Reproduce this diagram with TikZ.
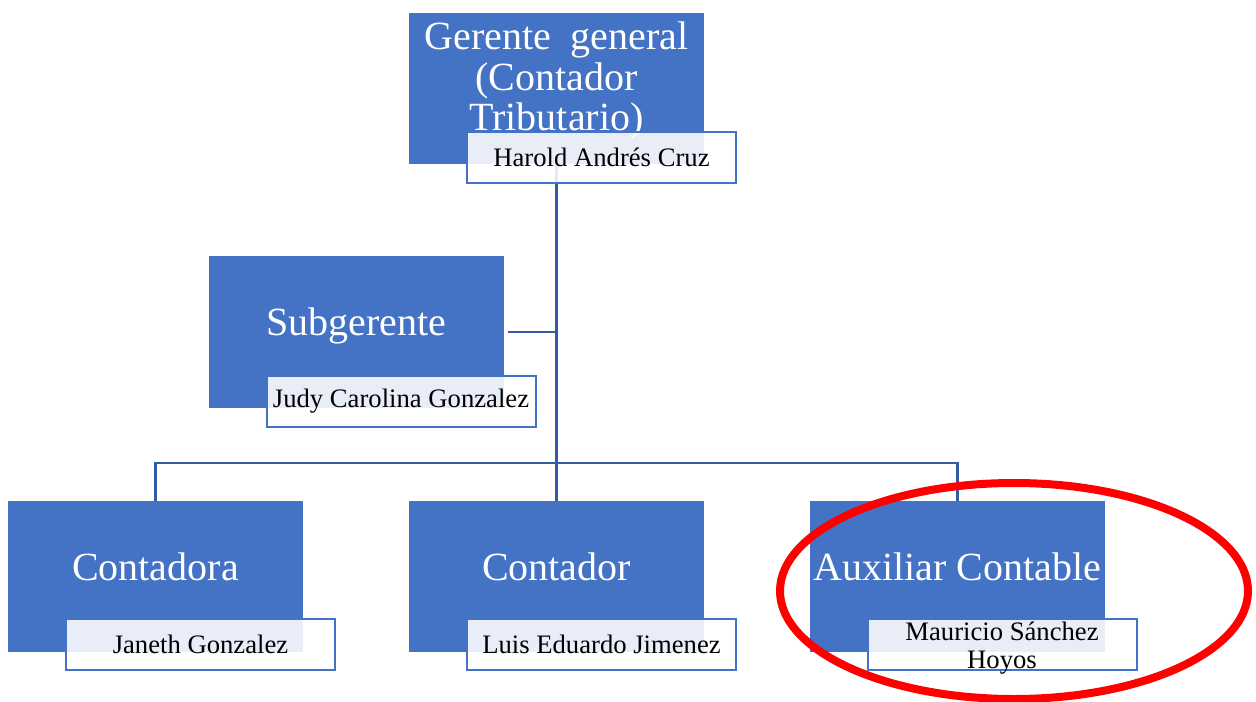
\documentclass[tikz,border=0pt]{standalone}
\usepackage{fontspec}
\setmainfont{Liberation Serif}
\definecolor{boxblue}{RGB}{68,114,196}
\definecolor{lineblue}{RGB}{52,90,165}
\definecolor{ringred}{RGB}{255,0,0}
\pgfdeclarelayer{background}
\pgfsetlayers{background,main}
\begin{document}
\begin{tikzpicture}[x=0.75pt,y=-0.75pt,
  role/.style={fill=boxblue, minimum width=221.25pt, minimum height=113.25pt, inner sep=0pt, outer sep=0pt},
  roletext/.style={text=white, font=\fontsize{30}{30.5}\selectfont, align=center, inner sep=0pt},
  namebox/.style={draw=boxblue, line width=1.5pt, fill=white, fill opacity=0.88, text opacity=1,
    minimum width=201.75pt, minimum height=38.25pt, inner sep=0pt, outer sep=0pt,
    font=\fontsize{20}{21}\selectfont, align=center, text=black},
  nametext/.style={font=\fontsize{20}{21}\selectfont, align=center, text=black, inner sep=0pt},
  link/.style={draw=lineblue, line width=1.7pt},
  ring/.style={draw=ringred, line width=6pt}
]
\useasboundingbox (0,0) rectangle (1256,702);

% top
\node[role] (gg) at (556.5,88.5) {};
\node[roletext] (ggt) at ([yshift=6pt]gg.center) {Gerente\ \ general\\(Contador\\Tributario)};
\node[namebox] (ggn) at (601.5,157.5) {Harold Andrés Cruz};

% subgerente
\node[role] (sub) at (356,332) {};
\node[roletext] (subt) at ([yshift=4.5pt]sub.center) {Subgerente};
\node[namebox] (subn) at (401,401.5) {Judy Carolina Gonzalez};

% bottom row
\node[role] (c1) at (155.5,576.5) {};
\node[roletext] (c1t) at ([yshift=7.5pt]c1.center) {Contadora};
\node[namebox] (c1n) at (200.5,644.5) {Janeth Gonzalez};

\node[role] (c2) at (556.5,576.5) {};
\node[roletext] (c2t) at ([yshift=7.5pt]c2.center) {Contador};
\node[namebox] (c2n) at (601.5,644.5) {Luis Eduardo Jimenez};

\node[role] (c3) at (957.5,576.5) {};
\node[roletext] (c3t) at ([yshift=7.5pt]c3.center) {Auxiliar Contable};
\node[namebox] (c3n) at (1002,644.5) {};
\node[nametext] (c3nt) at ([yshift=-3pt]c3n.center) {Mauricio Sánchez\\Hoyos};

\coordinate (hub) at (556.5,463);

\begin{pgfonlayer}{background}
\draw[link] (gg.south) -- (hub);
\draw[link] ([xshift=3pt]sub.east) -- (sub.east -| gg.south);
\draw[link] (hub) -- (c2.north);
\draw[link] (hub) -| (c1.north);
\draw[link] (hub) -| (c3.north);
\end{pgfonlayer}

\draw[ring] (1014,591) ellipse [x radius=175.5pt, y radius=81pt];
\end{tikzpicture}
\end{document}
